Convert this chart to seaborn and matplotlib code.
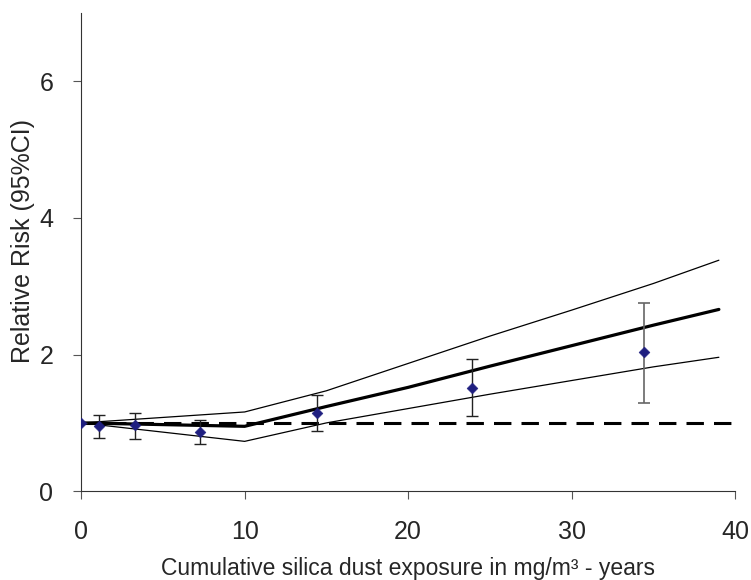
import numpy as np
import pandas as pd
import seaborn as sns
import matplotlib.pyplot as plt

# observed category estimates with 95% CI
obs_x = [0.0, 1.1, 3.3, 7.3, 14.4, 23.9, 34.4]
obs_rr = [1.00, 0.96, 0.97, 0.86, 1.14, 1.51, 2.03]
obs_lo = [1.00, 0.78, 0.77, 0.69, 0.88, 1.10, 1.29]
obs_hi = [1.00, 1.12, 1.14, 1.04, 1.41, 1.93, 2.75]

# fitted spline curve and its confidence band
fit_x = [0, 10, 15, 20, 25, 30, 35, 39]
fit_rr = [1.00, 0.95, 1.24, 1.52, 1.83, 2.13, 2.43, 2.66]
fit_lo = [1.00, 0.73, 1.00, 1.21, 1.42, 1.62, 1.82, 1.96]
fit_hi = [1.00, 1.16, 1.47, 1.87, 2.27, 2.65, 3.04, 3.38]

ref_x = [0, 40]
ref_y = [1, 1]

sns.set_style("ticks")
plt.rcParams['font.family'] = ['Liberation Sans', 'DejaVu Sans']

fig = plt.figure(figsize=(7.51, 5.8), dpi=100)
ax = fig.add_axes([0.108, 0.153, 0.871, 0.825])

fit = pd.DataFrame({'x': fit_x, 'rr': fit_rr, 'lo': fit_lo, 'hi': fit_hi})
sns.lineplot(data=fit, x='x', y='hi', ax=ax, color='black', linewidth=0.9)
sns.lineplot(data=fit, x='x', y='lo', ax=ax, color='black', linewidth=0.9)
sns.lineplot(data=fit, x='x', y='rr', ax=ax, color='black', linewidth=2.3)
sns.lineplot(x=ref_x, y=ref_y, ax=ax, color='black', linewidth=2.2,
             linestyle=(0, (5.7, 3.3)))

obs_rr_arr = np.array(obs_rr)
yerr = [obs_rr_arr - np.array(obs_lo), np.array(obs_hi) - obs_rr_arr]
ax.errorbar(obs_x[:-1], obs_rr[:-1], yerr=[yerr[0][:-1], yerr[1][:-1]], fmt='none',
            ecolor='#222222', elinewidth=1.0, capsize=4, capthick=1.0, zorder=3)
ax.errorbar(obs_x[-1:], obs_rr[-1:], yerr=[yerr[0][-1:], yerr[1][-1:]], fmt='none',
            ecolor='#666666', elinewidth=1.2, capsize=4, capthick=1.2, zorder=3)
sns.scatterplot(x=obs_x, y=obs_rr, ax=ax, marker='D', s=30,
                color='#1f1f80', edgecolor='#1f1f80', zorder=4)

ax.set_xlim(0, 40)
ax.set_ylim(0, 7)
ax.set_xticks([0, 10, 20, 30, 40])
ax.set_yticks([0, 2, 4, 6])
ax.tick_params(labelsize=18, length=6, width=0.8, color='#555555')
ax.tick_params(axis='x', pad=15)
ax.tick_params(axis='y', pad=14)
ax.set_xlabel('Cumulative silica dust exposure in mg/m³ - years', fontsize=16.5, labelpad=9)
ax.set_ylabel('Relative Risk (95%CI)', fontsize=18)
ax.yaxis.set_label_coords(-0.07, 0.523)
sns.despine(ax=ax)
for s in ['left', 'bottom']:
    ax.spines[s].set_linewidth(0.8)
    ax.spines[s].set_color('#333333')

fig.savefig('out.png', dpi=100)
